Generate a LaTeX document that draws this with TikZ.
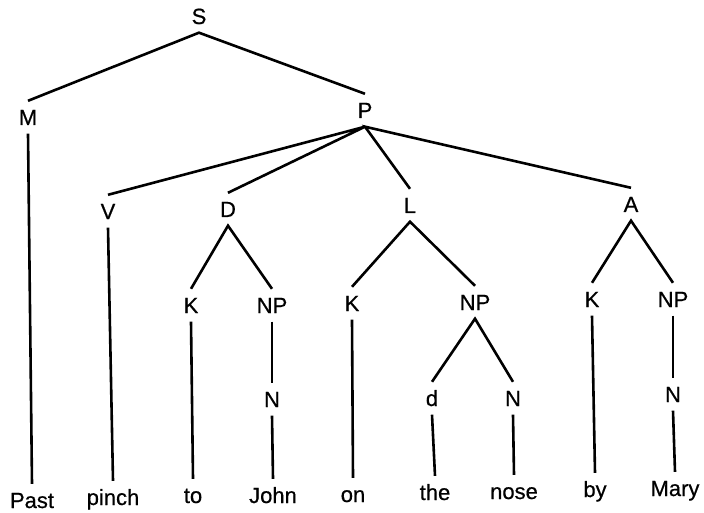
\documentclass[tikz,border=0pt]{standalone}
\usepackage{fontspec}
\setmainfont{Liberation Sans}
\newfontfamily\treefont[FakeBold=0.6]{Liberation Sans}
\usetikzlibrary{positioning}

\begin{document}
\begin{tikzpicture}[x=1pt,y=-1pt,
	lab/.style={anchor=base,font=\treefont\fontsize{22}{26}\selectfont,
		text height=15.5pt,text depth=0pt,inner xsep=2pt,inner ysep=8.5pt},
	branch/.style={line width=2.6pt}]
	
	\useasboundingbox (0,0) rectangle (704,513);
	
	% category labels
	\node[lab] (s) at (199,24) {S};
	\node[lab] (m) at (28,125) {M};
	\node[lab] (p) at (365,118) {P};
	
	\node[lab] (v) at (108,219) {V};
	\node[lab] (d) at (228,217) {D};
	\node[lab] (l) at (410,213) {L};
	\node[lab] (a) at (631,212) {A};
	
	\node[lab] (dk) at (191,313) {K};
	\node[lab] (dnp) at (272,313) {NP};
	\node[lab] (dn) at (272,407) {N};
	
	\node[lab] (lk) at (352,311) {K};
	\node[lab] (lnp) at (475,310) {NP};
	\node[lab] (ld) at (432,406) {d};
	\node[lab] (ln) at (513,406) {N};
	
	\node[lab] (ak) at (592,307) {K};
	\node[lab] (anp) at (673,307) {NP};
	\node[lab] (an) at (673,402) {N};
	
	% words
	\node[lab] (past) at (32,508) {Past};
	\node[lab] (pinch) at (113,505) {pinch};
	\node[lab] (to) at (193,503) {to};
	\node[lab] (john) at (273,503) {John};
	\node[lab] (on) at (353,502) {on};
	\node[lab] (the) at (435,500) {the};
	\node[lab] (nose) at (514,499) {nose};
	\node[lab] (by) at (595,497) {by};
	\node[lab] (mary) at (675,496) {Mary};
	
	% branches
	\draw[branch] (m.north) -- (s.south) -- (p.north);
	\draw[branch] (v.north) -- (p.south) -- (d.north);
	\draw[branch] (l.north) -- (p.south) -- (a.north);
	
	\draw[branch] (dk.north) -- (d.south) -- (dnp.north);
	\draw[branch] (lk.north) -- (l.south) -- (lnp.north);
	\draw[branch] (ak.north) -- (a.south) -- (anp.north);
	\draw[branch] (ld.north) -- (lnp.south) -- (ln.north);
	
	\draw[branch] (dnp.south) -- (dn.north);
	\draw[branch] (anp.south) -- (an.north);
	
	\draw[branch] (m.south) -- (past.north);
	\draw[branch] (v.south) -- (pinch.north);
	\draw[branch] (dk.south) -- (to.north);
	\draw[branch] (dn.south) -- (john.north);
	\draw[branch] (lk.south) -- (on.north);
	\draw[branch] (ld.south) -- (the.north);
	\draw[branch] (ln.south) -- (nose.north);
	\draw[branch] (ak.south) -- (by.north);
	\draw[branch] (an.south) -- (mary.north);
	
\end{tikzpicture}
\end{document}
